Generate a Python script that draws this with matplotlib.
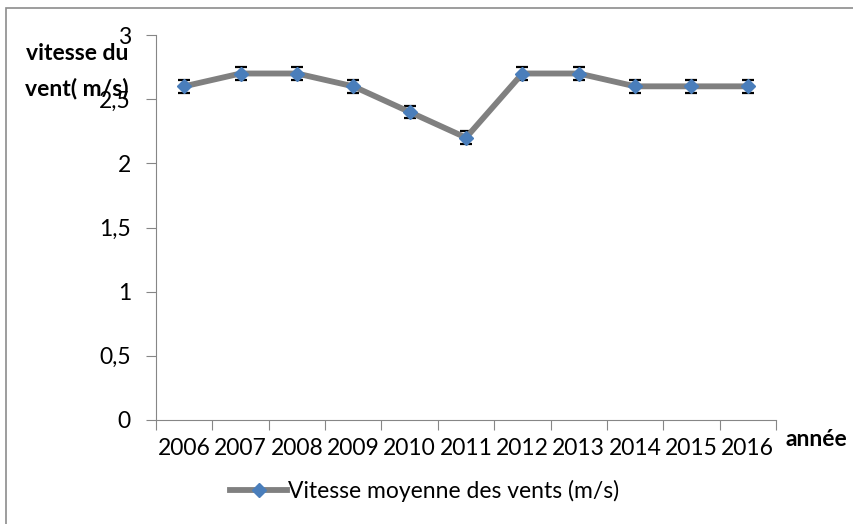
import matplotlib
matplotlib.use("Agg")
import matplotlib.pyplot as plt
from matplotlib.patches import Rectangle
from matplotlib.lines import Line2D

plt.rcParams['font.family'] = ['Lato', 'DejaVu Sans']

years = ["2006", "2007", "2008", "2009", "2010", "2011", "2012", "2013", "2014", "2015", "2016"]
vitesse = [2.6, 2.7, 2.7, 2.6, 2.4, 2.2, 2.7, 2.7, 2.6, 2.6, 2.6]
erreur = [0.05] * len(years)
yticks = [0, 0.5, 1, 1.5, 2, 2.5, 3]
ytick_labels = ["0", "0,5", "1", "1,5", "2", "2,5", "3"]

W, H = 854, 524
fig = plt.figure(figsize=(W / 100, H / 100), dpi=100)
fig.patches.append(Rectangle((6 / W, -0.05), 1.2, 1 - 8 / H + 0.05, transform=fig.transFigure,
                             fill=False, edgecolor="#8C8C8C", linewidth=1.2))
ax = fig.add_axes([156 / W, 1 - 420 / H, 620 / W, 385 / H])

line_color = "#808080"
marker_color = "#4A7EBB"
x = list(range(len(years)))
ax.errorbar(x, vitesse, yerr=erreur, fmt="none",
            ecolor="black", elinewidth=1.0, capsize=4.5, capthick=1.6, zorder=2)
ax.plot(x, vitesse, color=line_color, linewidth=4.2,
        marker="D", markersize=7.5, markerfacecolor=marker_color, markeredgecolor=marker_color,
        zorder=3)

ax.set_xlim(-0.5, len(years) - 0.5)
ax.set_ylim(0, 3)
ax.set_yticks(yticks)
ax.set_yticklabels(ytick_labels, fontsize=16.5)
ax.set_xticks([i - 0.5 for i in range(len(years) + 1)])
ax.set_xticklabels([])
ax.set_xticks(x, minor=True)
ax.set_xticklabels(years, minor=True, fontsize=16.5)
ax.tick_params(axis="x", which="minor", length=0, pad=13)
ax.tick_params(axis="x", which="major", length=7, color="#868686", direction="out")
ax.tick_params(axis="y", length=7, color="#868686", direction="out", pad=11)
for s in ["top", "right"]:
    ax.spines[s].set_visible(False)
for s in ["left", "bottom"]:
    ax.spines[s].set_color("#868686")

fig.text(77 / W, 1 - 54 / H, "vitesse du", fontsize=16.5, fontweight="bold",
         ha="center", va="center")
fig.text(77 / W, 1 - 88 / H, "vent( m/s)", fontsize=16.5, fontweight="bold",
         ha="center", va="center")
fig.text(786 / W, 1 - 440 / H, "année", fontsize=16.5, fontweight="bold", ha="left", va="center")

handle = Line2D([], [], color=line_color, linewidth=4.2, marker="D", markersize=7.5,
                markerfacecolor=marker_color, markeredgecolor=marker_color)
fig.legend([handle], ["Vitesse moyenne des vents (m/s)"], loc="center left",
           bbox_to_anchor=(230 / W, 1 - 491 / H), frameon=False, fontsize=16.5,
           handlelength=2.5, handletextpad=0.05, borderaxespad=0, borderpad=0)

fig.savefig("out.png", dpi=100)
